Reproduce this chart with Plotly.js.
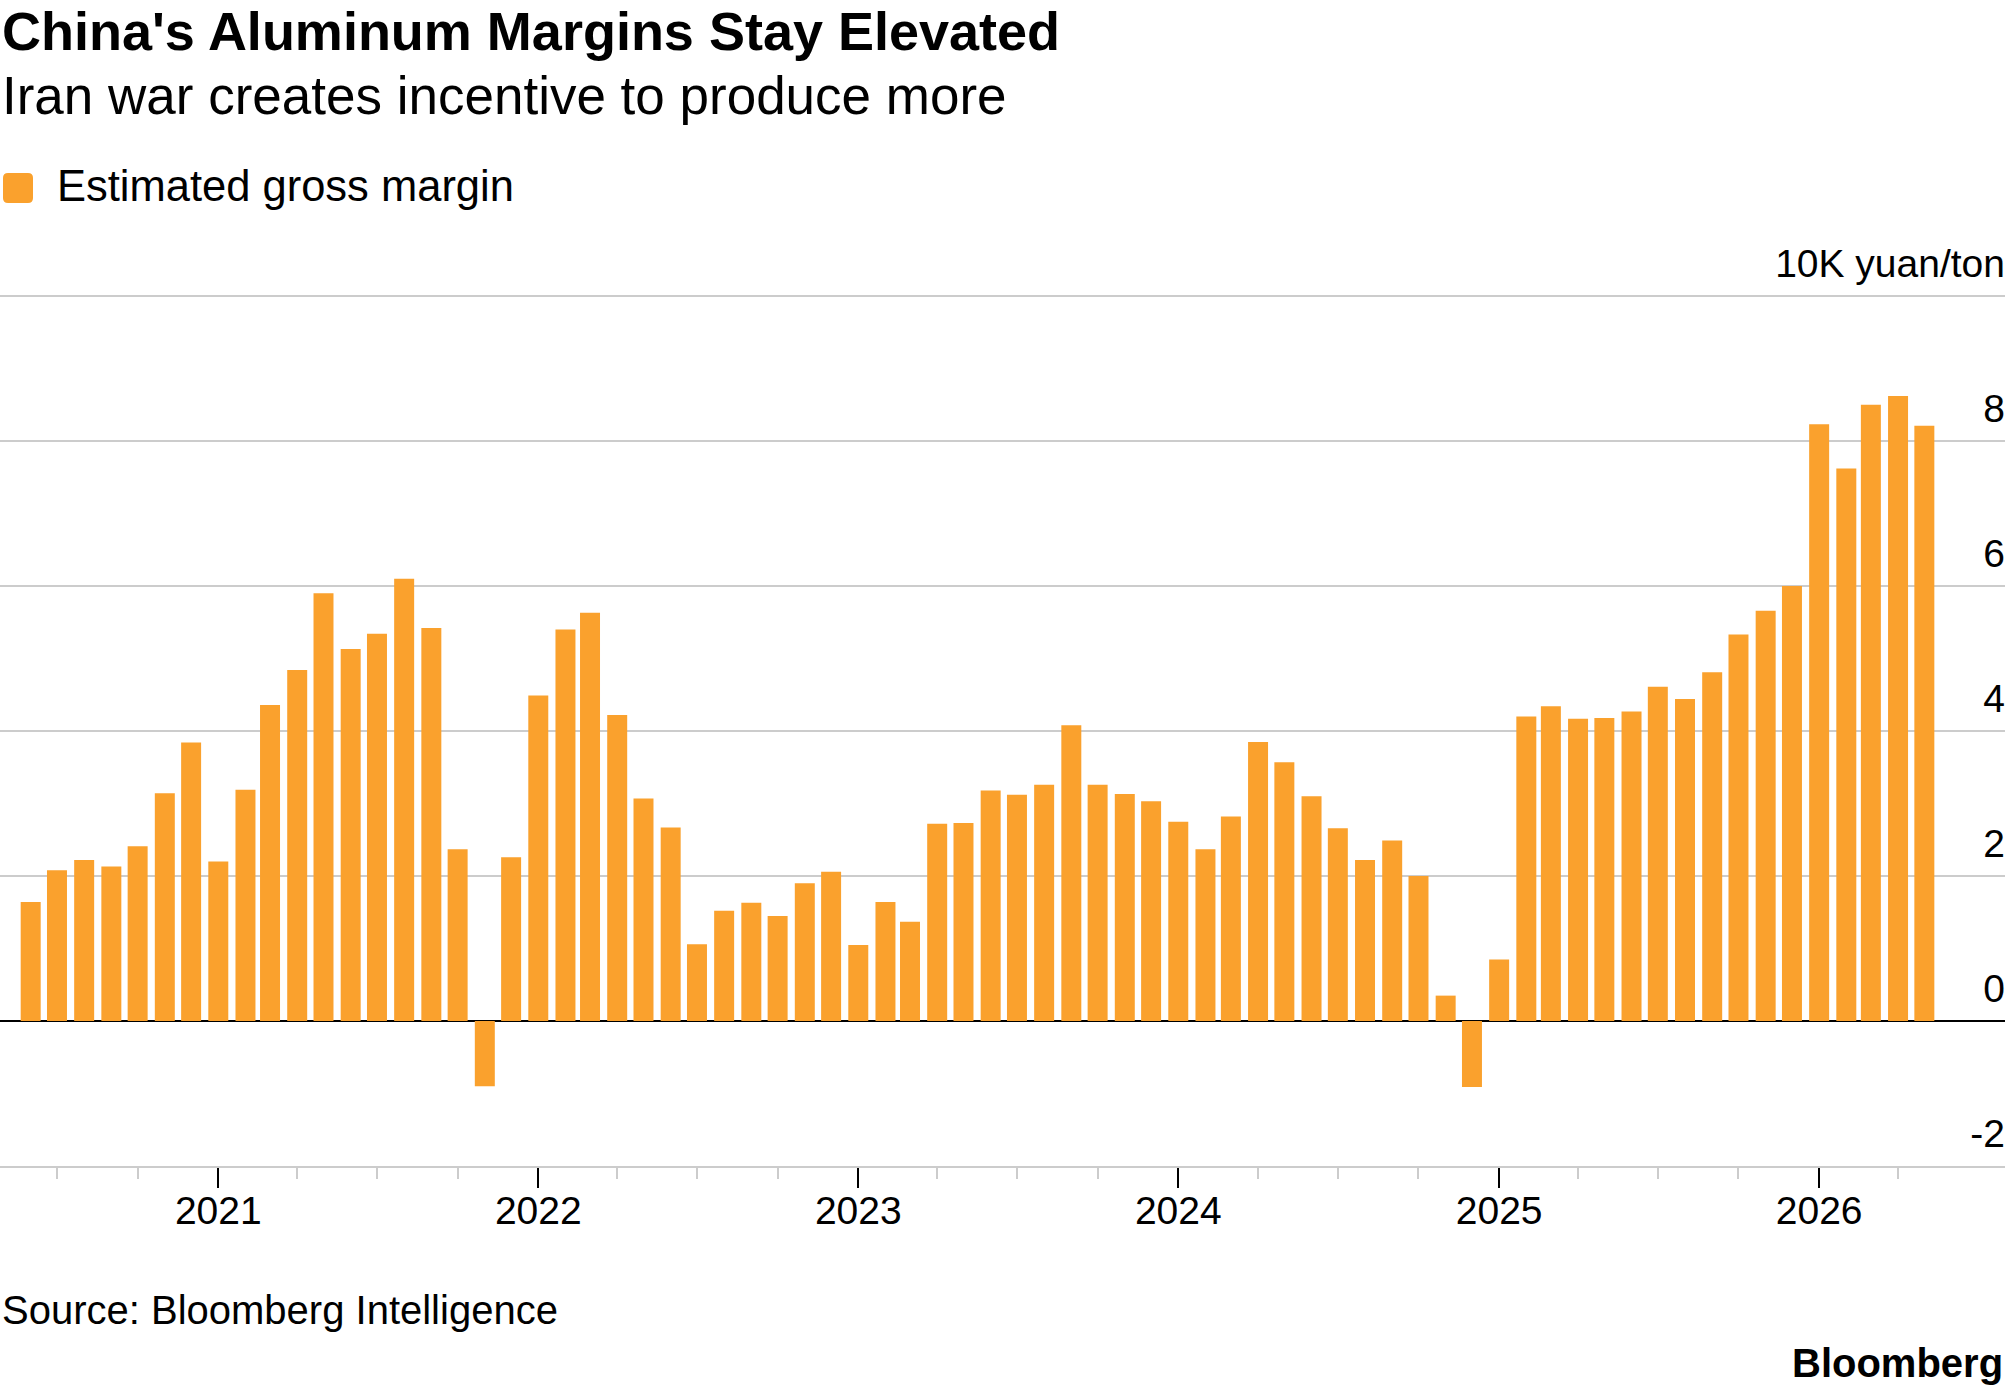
<!DOCTYPE html>
<html>
<head>
<meta charset="utf-8">
<script src="https://cdn.plot.ly/plotly-3.0.1.min.js"></script>
<style>
  html, body { margin: 0; padding: 0; background: #fff; }
  #chart { width: 2005px; height: 1392px; }
</style>
</head>
<body>
<div id="chart"></div>
<script>
// ---- Data (monthly, estimated gross margin, 10K yuan/ton) ----
const months = [
  "2020-06-01","2020-07-01","2020-08-01","2020-09-01","2020-10-01","2020-11-01","2020-12-01",
  "2021-01-01","2021-02-01","2021-03-01","2021-04-01","2021-05-01","2021-06-01","2021-07-01","2021-08-01","2021-09-01","2021-10-01","2021-11-01","2021-12-01",
  "2022-01-01","2022-02-01","2022-03-01","2022-04-01","2022-05-01","2022-06-01","2022-07-01","2022-08-01","2022-09-01","2022-10-01","2022-11-01","2022-12-01",
  "2023-01-01","2023-02-01","2023-03-01","2023-04-01","2023-05-01","2023-06-01","2023-07-01","2023-08-01","2023-09-01","2023-10-01","2023-11-01","2023-12-01",
  "2024-01-01","2024-02-01","2024-03-01","2024-04-01","2024-05-01","2024-06-01","2024-07-01","2024-08-01","2024-09-01","2024-10-01","2024-11-01","2024-12-01",
  "2025-01-01","2025-02-01","2025-03-01","2025-04-01","2025-05-01","2025-06-01","2025-07-01","2025-08-01","2025-09-01","2025-10-01","2025-11-01","2025-12-01",
  "2026-01-01","2026-02-01","2026-03-01","2026-04-01","2026-05-01"
];
const grossMargin = [
  1.64, 2.08, 2.22, 2.13, 2.41, 3.14, 3.84,
  2.20, 3.19, 4.36, 4.84, 5.90, 5.13, 5.34, 6.10, 5.42, 2.37, -0.90, 2.26,
  4.49, 5.40, 5.63, 4.22, 3.07, 2.67, 1.06, 1.52, 1.63, 1.45, 1.90, 2.06,
  1.05, 1.64, 1.37, 2.72, 2.73, 3.18, 3.12, 3.26, 4.08, 3.26, 3.13, 3.03,
  2.75, 2.37, 2.82, 3.85, 3.57, 3.10, 2.66, 2.22, 2.49, 2.00, 0.35, -0.91,
  0.85, 4.20, 4.34, 4.17, 4.18, 4.27, 4.61, 4.44, 4.81, 5.33, 5.66, 6.00,
  8.23, 7.62, 8.50, 8.62, 8.21
];
const yTickVals = [-2, 0, 2, 4, 6, 8, 10];
const yTickText = ["-2", "0", "2", "4", "6", "8", "10K yuan/ton"];
const minorTickDates = [
  "2020-07-01","2020-10-01",
  "2021-04-01","2021-07-01","2021-10-01",
  "2022-04-01","2022-07-01","2022-10-01",
  "2023-04-01","2023-07-01","2023-10-01",
  "2024-04-01","2024-07-01","2024-10-01",
  "2025-04-01","2025-07-01","2025-10-01",
  "2026-04-01"
];

const titleText = "China's Aluminum Margins Stay Elevated";
const subtitleText = "Iran war creates incentive to produce more";
const legendText = "Estimated gross margin";
const sourceText = "Source: Bloomberg Intelligence";
const brandText = "Bloomberg";

// ---- Layout helpers (pixel -> paper) ----
const W = 2005, H = 1392;
const plotTop = 238, plotBottom = 1166;
const plotH = plotBottom - plotTop;
const px = x => x / W;
const py = y => (plotBottom - y) / plotH;

const ORANGE = "#FAA12D";
const GRID = "#cccccc";
const FONT = "Liberation Sans, Arial, Helvetica, sans-serif";
const DAY = 86400000;
const Y_RANGE = [-2, 10.8];

const barTrace = {
  type: "bar",
  x: months,
  y: grossMargin,
  xaxis: "x",
  yaxis: "y",
  width: 22.8 * DAY,
  marker: { color: ORANGE, line: { width: 0 } },
  name: legendText,
  hoverinfo: "x+y"
};
// carrier for the right-hand label axis (draws nothing)
const labelAxisTrace = {
  type: "scatter",
  mode: "none",
  x: months,
  y: grossMargin,
  xaxis: "x",
  yaxis: "y2",
  hoverinfo: "skip",
  showlegend: false
};

const r = 5; // corner radius px for legend square
const sx0 = 3, sx1 = 33, sy0 = 173, sy1 = 203;
const legendSquarePath =
  `M ${px(sx0 + r)},${py(sy0)} L ${px(sx1 - r)},${py(sy0)} ` +
  `Q ${px(sx1)},${py(sy0)} ${px(sx1)},${py(sy0 + r)} ` +
  `L ${px(sx1)},${py(sy1 - r)} Q ${px(sx1)},${py(sy1)} ${px(sx1 - r)},${py(sy1)} ` +
  `L ${px(sx0 + r)},${py(sy1)} Q ${px(sx0)},${py(sy1)} ${px(sx0)},${py(sy1 - r)} ` +
  `L ${px(sx0)},${py(sy0 + r)} Q ${px(sx0)},${py(sy0)} ${px(sx0 + r)},${py(sy0)} Z`;

const layout = {
  width: W,
  height: H,
  margin: { l: 0, r: 0, t: plotTop, b: H - plotBottom, pad: 0 },
  paper_bgcolor: "#ffffff",
  plot_bgcolor: "#ffffff",
  showlegend: false,
  font: { family: FONT, color: "#000000" },
  xaxis: {
    type: "date",
    anchor: "y",
    range: ["2020-04-27", "2026-08-01"],
    tick0: "2021-01-01",
    dtick: "M12",
    tickformat: "%Y",
    ticks: "outside",
    ticklen: 20,
    tickwidth: 2,
    tickcolor: "#000000",
    ticklabelstandoff: -11,
    tickfont: { family: FONT, size: 39, color: "#000000" },
    showgrid: false,
    zeroline: false,
    showline: true,
    linecolor: GRID,
    linewidth: 2,
    minor: {
      tickmode: "array",
      tickvals: minorTickDates,
      ticks: "outside",
      ticklen: 11,
      tickwidth: 2,
      tickcolor: GRID,
      showgrid: false
    },
    fixedrange: true
  },
  // gridlines + zero line
  yaxis: {
    range: Y_RANGE,
    side: "right",
    anchor: "x",
    tickmode: "array",
    tickvals: yTickVals,
    showticklabels: false,
    ticks: "",
    showgrid: true,
    gridcolor: GRID,
    gridwidth: 2,
    zeroline: true,
    zerolinecolor: "#000000",
    zerolinewidth: 2,
    showline: false,
    fixedrange: true
  },
  // tick labels placed above the gridlines, right-aligned at the right edge
  yaxis2: {
    range: Y_RANGE,
    overlaying: "y",
    anchor: "free",
    position: 1,
    side: "left",
    tickmode: "array",
    tickvals: yTickVals,
    ticktext: yTickText,
    ticks: "",
    ticklabelposition: "outside",
    ticklabelshift: -33,
    ticklabelstandoff: 0,
    tickfont: { family: FONT, size: 39, color: "#000000" },
    showgrid: false,
    zeroline: false,
    showline: false,
    fixedrange: true
  },
  shapes: [
    {
      type: "path",
      xref: "paper", yref: "paper",
      path: legendSquarePath,
      fillcolor: ORANGE,
      line: { width: 0 }
    }
  ],
  annotations: [
    {
      text: titleText, xref: "paper", yref: "paper",
      x: px(0), y: py(31), xanchor: "left", yanchor: "middle",
      showarrow: false,
      font: { family: FONT, size: 54, color: "#000000", weight: 700 }
    },
    {
      text: subtitleText, xref: "paper", yref: "paper",
      x: px(0), y: py(95), xanchor: "left", yanchor: "middle",
      showarrow: false,
      font: { family: FONT, size: 53, color: "#000000" }
    },
    {
      text: legendText, xref: "paper", yref: "paper",
      x: px(55), y: py(186), xanchor: "left", yanchor: "middle",
      showarrow: false,
      font: { family: FONT, size: 43.5, color: "#000000" }
    },
    {
      text: sourceText, xref: "paper", yref: "paper",
      x: px(0), y: py(1310), xanchor: "left", yanchor: "middle",
      showarrow: false,
      font: { family: FONT, size: 40, color: "#000000" }
    },
    {
      text: brandText, xref: "paper", yref: "paper",
      x: px(W), y: py(1363), xanchor: "right", yanchor: "middle",
      showarrow: false,
      font: { family: FONT, size: 40, color: "#000000", weight: 700 }
    }
  ]
};

Plotly.newPlot("chart", [barTrace, labelAxisTrace], layout, { staticPlot: true, displayModeBar: false });
</script>
</body>
</html>
